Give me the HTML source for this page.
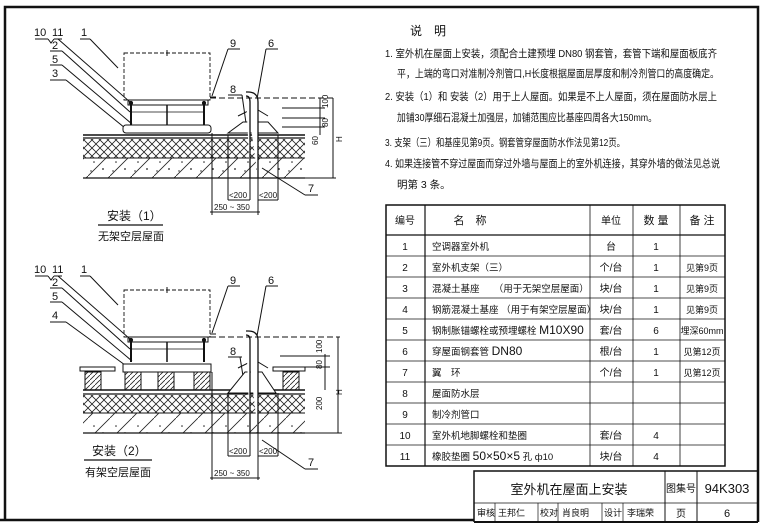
<!DOCTYPE html>
<html><head><meta charset="utf-8"><style>
html,body{margin:0;padding:0;background:#fff;}
svg{display:block;}
text{font-family:"Liberation Sans","WenQuanYi Zen Hei","Noto Sans CJK SC",sans-serif;fill:#111;}
</style></head><body>
<svg width="763" height="526" viewBox="0 0 763 526" xmlns="http://www.w3.org/2000/svg">
<defs>
<pattern id="xh" width="8" height="8" patternUnits="userSpaceOnUse">
<path d="M0,0L8,8M8,0L0,8" stroke="#222" stroke-width="0.8"/>
</pattern>
<pattern id="dh" width="22" height="22" patternUnits="userSpaceOnUse">
<path d="M0,22L22,0" stroke="#222" stroke-width="0.8"/>
<circle cx="6" cy="8" r="0.8" fill="#222"/><circle cx="15" cy="15" r="0.9" fill="#222"/><circle cx="3" cy="17" r="0.7" fill="#222"/>
</pattern>
<pattern id="bh" width="5" height="5" patternUnits="userSpaceOnUse">
<path d="M0,5L5,0" stroke="#222" stroke-width="0.8"/>
</pattern>
<g id="unit" stroke="#111" fill="none">
<rect x="124" y="53" width="86" height="47" stroke-dasharray="4,2" stroke-width="0.9"/>
<line x1="167" y1="50" x2="167" y2="56"/>
<rect x="128" y="100" width="80" height="5" fill="#fff"/>
<line x1="131" y1="103" x2="131" y2="125" stroke-width="2"/>
<line x1="204" y1="103" x2="204" y2="125" stroke-width="2"/>
<line x1="167" y1="105" x2="167" y2="125" stroke-width="1.5"/>
<line x1="131" y1="112" x2="204" y2="112" stroke-width="0.7"/>
<circle cx="131" cy="103" r="1.6" fill="#111"/><circle cx="204" cy="103" r="1.6" fill="#111"/>
<line x1="210" y1="97" x2="216" y2="97"/>
<line x1="35" y1="39" x2="48" y2="39"/><path d="M48,39L51,43L54,39"/><line x1="54" y1="39" x2="62" y2="39"/>
<line x1="58" y1="39" x2="130" y2="102"/>
<line x1="80" y1="39" x2="90" y2="39"/><line x1="90" y1="39" x2="118" y2="68"/>
<line x1="50" y1="51" x2="62" y2="51"/><line x1="62" y1="51" x2="130" y2="112"/>
<line x1="50" y1="65" x2="62" y2="65"/><line x1="62" y1="65" x2="132" y2="124"/>
<line x1="228" y1="49" x2="240" y2="49"/><line x1="228" y1="49" x2="212" y2="96"/>
<line x1="266" y1="49" x2="278" y2="49"/><line x1="266" y1="49" x2="257" y2="99"/>
</g>
</defs>

<path d="M5,520 L5,7 L758,7 L758,522" fill="none" stroke="#111" stroke-width="2.5"/>
<line x1="0" y1="520" x2="474" y2="520" stroke="#111" stroke-width="2.5"/>

<!-- Drawing 1 -->
<use href="#unit"/>
<g font-size="11">
<text x="34" y="36">10</text><text x="52" y="36">11</text><text x="81" y="36">1</text>
<text x="52" y="49">2</text><text x="52" y="63">5</text><text x="52" y="77">3</text>
<text x="230" y="47">9</text><text x="268" y="47">6</text>
<text x="230" y="93">8</text><text x="308" y="192">7</text>
</g>
<g stroke="#111" fill="none">
<line x1="50" y1="80" x2="66" y2="80"/><line x1="66" y1="80" x2="125" y2="128"/>
<line x1="228" y1="95" x2="242" y2="95"/><line x1="242" y1="95" x2="247" y2="130"/>
<line x1="305" y1="195" x2="318" y2="195"/><line x1="305" y1="195" x2="262" y2="168"/>
<rect x="123" y="125" width="88" height="8" rx="3" fill="#fff"/>
<line x1="83" y1="135" x2="305" y2="135" stroke-width="1.5"/>
<line x1="83" y1="138" x2="305" y2="138" stroke-width="1.2"/>
<rect x="83" y="139" width="222" height="19" fill="url(#xh)" stroke="none"/>
<line x1="83" y1="158" x2="305" y2="158"/>
<rect x="83" y="158" width="222" height="20" fill="url(#dh)" stroke="none"/>
<line x1="83" y1="178" x2="305" y2="178" stroke-width="1.2"/>
<path d="M228,133 L243,122 L268,122 L278,133 Z" fill="#fff"/>
<path d="M238,116 L250,110 L258,110 L268,116" />
<path d="M250,178 L250,102 Q250,96 246,96 M258,178 L258,102 Q258,92 248,92 L246,92" fill="#fff" stroke-width="1.3"/>
<line x1="210" y1="98" x2="336" y2="98" stroke-dasharray="6,3"/>
<line x1="333" y1="98" x2="333" y2="178"/>
<line x1="305" y1="178" x2="336" y2="178"/>
<line x1="320" y1="98" x2="320" y2="135"/>
<line x1="282" y1="108" x2="325" y2="108"/><line x1="282" y1="118" x2="325" y2="118"/><line x1="282" y1="127" x2="325" y2="127"/>
<line x1="212" y1="133" x2="212" y2="215"/>
<line x1="228" y1="135" x2="228" y2="200"/><line x1="250" y1="178" x2="250" y2="200"/>
<line x1="258" y1="178" x2="258" y2="215"/><line x1="278" y1="135" x2="278" y2="200"/>
<line x1="228" y1="200" x2="250" y2="200"/><line x1="258" y1="200" x2="278" y2="200"/>
<line x1="210" y1="212" x2="260" y2="212"/>
<line x1="98" y1="225" x2="163" y2="225" stroke-width="1.2"/>
</g>
<g font-size="8">
<text x="229" y="198">&lt;200</text><text x="259" y="198">&lt;200</text>
<text x="214" y="210">250 ~ 350</text>
<text transform="translate(328,108) rotate(-90)">100</text>
<text transform="translate(328,127) rotate(-90)">80</text>
<text transform="translate(318,145) rotate(-90)">60</text>
<text transform="translate(342,142) rotate(-90)">H</text>
</g>
<text x="107" y="220" font-size="12">安装（1）</text>
<text x="98" y="240" font-size="11">无架空层屋面</text>

<!-- Drawing 2 -->
<use href="#unit" transform="translate(0,237)"/>
<g font-size="11">
<text x="34" y="273">10</text><text x="52" y="273">11</text><text x="81" y="273">1</text>
<text x="52" y="286">2</text><text x="52" y="300">5</text><text x="52" y="319">4</text>
<text x="230" y="284">9</text><text x="268" y="284">6</text>
<text x="230" y="355">8</text><text x="308" y="466">7</text>
</g>
<g stroke="#111" fill="none">
<line x1="50" y1="322" x2="66" y2="322"/><line x1="66" y1="322" x2="125" y2="365"/>
<line x1="228" y1="357" x2="242" y2="357"/><line x1="240" y1="357" x2="246" y2="395"/>
<line x1="305" y1="469" x2="318" y2="469"/><line x1="305" y1="469" x2="262" y2="440"/>
<rect x="123" y="364" width="88" height="8" fill="#fff"/>
<rect x="80" y="367" width="35" height="4" fill="#fff"/>
<rect x="273" y="367" width="32" height="4" fill="#fff"/>
<rect x="85" y="372" width="16" height="18" fill="url(#bh)"/>
<rect x="125" y="372" width="16" height="18" fill="url(#bh)"/>
<rect x="158" y="372" width="16" height="18" fill="url(#bh)"/>
<rect x="194" y="372" width="16" height="18" fill="url(#bh)"/>
<rect x="283" y="372" width="16" height="18" fill="url(#bh)"/>
<line x1="83" y1="390" x2="305" y2="390" stroke-width="1.5"/>
<line x1="83" y1="394" x2="305" y2="394" stroke-width="1.2"/>
<rect x="83" y="395" width="222" height="18" fill="url(#xh)" stroke="none"/>
<line x1="83" y1="413" x2="305" y2="413"/>
<rect x="83" y="413" width="222" height="20" fill="url(#dh)" stroke="none"/>
<line x1="83" y1="433" x2="305" y2="433" stroke-width="1.2"/>
<path d="M228,393 L245,372 L262,372 L276,393 Z" fill="#fff"/>
<path d="M238,368 L250,362 L258,362 L268,368"/>
<path d="M250,433 L250,340 Q250,335 246,335 M258,433 L258,340 Q258,331 248,331 L246,331" fill="#fff" stroke-width="1.3"/>
<line x1="210" y1="337" x2="340" y2="337" stroke-dasharray="6,3"/>
<line x1="338" y1="337" x2="338" y2="433"/>
<line x1="305" y1="433" x2="342" y2="433"/>
<line x1="325" y1="354" x2="325" y2="390"/>
<line x1="280" y1="356" x2="330" y2="356"/><line x1="290" y1="367" x2="330" y2="367"/>
<line x1="212" y1="372" x2="212" y2="480"/>
<line x1="228" y1="393" x2="228" y2="456"/><line x1="250" y1="433" x2="250" y2="456"/>
<line x1="258" y1="433" x2="258" y2="480"/><line x1="278" y1="393" x2="278" y2="456"/>
<line x1="228" y1="456" x2="250" y2="456"/><line x1="258" y1="456" x2="278" y2="456"/>
<line x1="210" y1="478" x2="260" y2="478"/>
<line x1="84" y1="460" x2="152" y2="460" stroke-width="1.2"/>
</g>
<g font-size="8">
<text x="229" y="454">&lt;200</text><text x="259" y="454">&lt;200</text>
<text x="214" y="476">250 ~ 350</text>
<text transform="translate(322,353) rotate(-90)">100</text>
<text transform="translate(322,369) rotate(-90)">80</text>
<text transform="translate(322,410) rotate(-90)">200</text>
<text transform="translate(342,395) rotate(-90)">H</text>
</g>
<text x="92" y="455" font-size="12">安装（2）</text>
<text x="85" y="476" font-size="11">有架空层屋面</text>

<!-- Notes -->
<text x="410" y="35" font-size="12">说　明</text>
<g font-size="10.5">
<text x="385" y="57" textLength="332" lengthAdjust="spacingAndGlyphs">1. 室外机在屋面上安装，须配合土建预埋 DN80 钢套管，套管下端和屋面板底齐</text>
<text x="397" y="77" textLength="322" lengthAdjust="spacingAndGlyphs">平，上端的弯口对准制冷剂管口,H长度根据屋面层厚度和制冷剂管口的高度确定。</text>
<text x="385" y="100" textLength="332" lengthAdjust="spacingAndGlyphs">2. 安装（1）和 安装（2）用于上人屋面。如果是不上人屋面，须在屋面防水层上</text>
<text x="397" y="121" textLength="260" lengthAdjust="spacingAndGlyphs">加铺30厚细石混凝土加强层，加铺范围应比基座四周各大150mm。</text>
<text x="385" y="146" textLength="240" lengthAdjust="spacingAndGlyphs">3. 支架（三）和基座见第9页。钢套管穿屋面防水作法见第12页。</text>
<text x="385" y="167" textLength="335" lengthAdjust="spacingAndGlyphs">4. 如果连接管不穿过屋面而穿过外墙与屋面上的室外机连接，其穿外墙的做法见总说</text>
<text x="397" y="188">明第 3 条。</text>
</g>

<!-- Table -->
<g stroke="#111" fill="none">
<rect x="386" y="205" width="339" height="261" stroke-width="1.5"/>
<line x1="386" y1="235" x2="725" y2="235" stroke-width="1.2"/>
<line x1="425" y1="205" x2="425" y2="466" stroke-width="1.2"/>
<line x1="590" y1="205" x2="590" y2="466" stroke-width="0.8"/>
<line x1="633" y1="205" x2="633" y2="466" stroke-width="0.8"/>
<line x1="680" y1="205" x2="680" y2="466" stroke-width="0.8"/>
<g stroke-width="0.7">
<line x1="386" y1="256" x2="725" y2="256"/><line x1="386" y1="277" x2="725" y2="277"/>
<line x1="386" y1="298" x2="725" y2="298"/><line x1="386" y1="319" x2="725" y2="319"/>
<line x1="386" y1="340" x2="725" y2="340"/><line x1="386" y1="361" x2="725" y2="361"/>
<line x1="386" y1="382" x2="725" y2="382"/><line x1="386" y1="403" x2="725" y2="403"/>
<line x1="386" y1="424" x2="725" y2="424"/><line x1="386" y1="445" x2="725" y2="445"/>
</g>
</g>
<g font-size="10" text-anchor="middle">
<text x="405" y="224">编号</text><text x="470" y="224" font-size="11">名　称</text>
<text x="611" y="224">单位</text><text x="656" y="224" font-size="11">数 量</text><text x="702" y="224" font-size="11">备 注</text>
<text x="405" y="250">1</text><text x="405" y="271">2</text><text x="405" y="292">3</text><text x="405" y="313">4</text>
<text x="405" y="334">5</text><text x="405" y="355">6</text><text x="405" y="376">7</text><text x="405" y="397">8</text>
<text x="405" y="418">9</text><text x="405" y="439">10</text><text x="405" y="460">11</text>
<text x="611" y="250">台</text><text x="611" y="271">个/台</text><text x="611" y="292">块/台</text><text x="611" y="313">块/台</text>
<text x="611" y="334">套/台</text><text x="611" y="355">根/台</text><text x="611" y="376">个/台</text>
<text x="611" y="439">套/台</text><text x="611" y="460">块/台</text>
<text x="656" y="250">1</text><text x="656" y="271">1</text><text x="656" y="292">1</text><text x="656" y="313">1</text>
<text x="656" y="334">6</text><text x="656" y="355">1</text><text x="656" y="376">1</text>
<text x="656" y="439">4</text><text x="656" y="460">4</text>
<text x="702" y="271" font-size="9">见第9页</text><text x="702" y="292" font-size="9">见第9页</text><text x="702" y="313" font-size="9">见第9页</text>
<text x="702" y="334" font-size="9">埋深60mm</text><text x="702" y="355" font-size="9">见第12页</text><text x="702" y="376" font-size="9">见第12页</text>
</g>
<g font-size="9.5">
<text x="432" y="250">空调器室外机</text>
<text x="432" y="271">室外机支架（三）</text>
<text x="432" y="292">混凝土基座　　（用于无架空层屋面）</text>
<text x="432" y="313">钢筋混凝土基座 （用于有架空层屋面）</text>
<text x="432" y="334">钢制胀锚螺栓或预埋螺栓 <tspan font-size="12">M10X90</tspan></text>
<text x="432" y="355">穿屋面钢套管 <tspan font-size="12">DN80</tspan></text>
<text x="432" y="376">翼　环</text>
<text x="432" y="397">屋面防水层</text>
<text x="432" y="418">制冷剂管口</text>
<text x="432" y="439">室外机地脚螺栓和垫圈</text>
<text x="432" y="460">橡胶垫圈 <tspan font-size="12">50×50×5</tspan> 孔 ф10</text>
</g>

<!-- Title block -->
<g stroke="#111" fill="none">
<path d="M474,522 L474,471 L758,471" stroke-width="1.5"/>
<line x1="474" y1="522" x2="758" y2="522" stroke-width="2"/>
<line x1="474" y1="503" x2="758" y2="503" stroke-width="0.8"/>
<line x1="665" y1="471" x2="665" y2="522"/>
<line x1="697" y1="471" x2="697" y2="522"/>
<g stroke-width="0.7">
<line x1="495" y1="503" x2="495" y2="522"/><line x1="538" y1="503" x2="538" y2="522"/>
<line x1="558" y1="503" x2="558" y2="522"/><line x1="602" y1="503" x2="602" y2="522"/>
<line x1="623" y1="503" x2="623" y2="522"/>
</g>
</g>
<text x="569" y="494" font-size="13" text-anchor="middle">室外机在屋面上安装</text>
<text x="681" y="492" font-size="10" text-anchor="middle">图集号</text>
<text x="727" y="493" font-size="13" text-anchor="middle">94K303</text>
<g font-size="9">
<text x="477" y="516">审核</text><text x="498" y="516">王邦仁</text>
<text x="540" y="516">校对</text><text x="562" y="516">肖良明</text>
<text x="604" y="516">设计</text><text x="627" y="516">李瑞荣</text>
</g>
<text x="681" y="517" font-size="10" text-anchor="middle">页</text>
<text x="727" y="517" font-size="11" text-anchor="middle">6</text>
</svg>
</body></html>
